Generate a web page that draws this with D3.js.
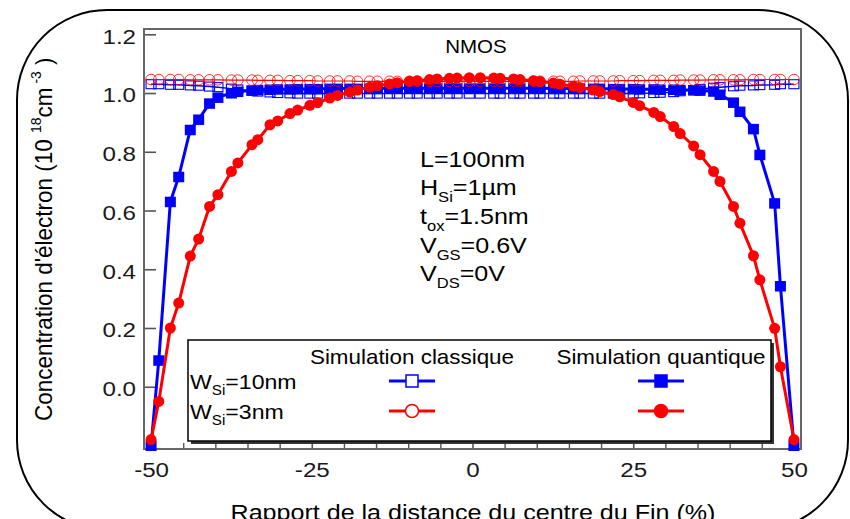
<!DOCTYPE html>
<html>
<head>
<meta charset="utf-8">
<script src="https://cdn.jsdelivr.net/npm/d3@7"></script>
<style>
  html, body { margin: 0; padding: 0; background: #fff; }
  svg { display: block; font-family: "Liberation Sans", Arial, Helvetica, sans-serif; }
</style>
</head>
<body>
<svg id="chart" width="850" height="519"></svg>
<script>
// Position across the fin (% of distance from the centre)
const positions = [
  -50, -48.8, -47.0, -45.7, -43.9, -42.6, -40.9, -39.6, -37.5, -36.5,
  -34.3, -33.4, -31.5, -30.3, -28.4, -27.2, -25.3, -24.1, -22.2, -21.0,
  -19.1, -17.9, -16.0, -14.8, -12.9, -11.7, -9.8, -8.6, -6.7, -5.5,
  -3.6, -2.4, -0.5, 1.2, 3.3, 4.3, 6.4, 7.4, 9.5, 10.5,
  12.6, 13.6, 15.7, 16.7, 18.8, 19.8, 21.9, 22.9, 25.0, 26.0,
  28.2, 29.2, 31.3, 32.3, 34.4, 35.4, 37.5, 38.5, 40.6, 41.6,
  43.7, 44.7, 47.0, 47.9, 50
];

// Electron concentration (1e18 cm^-3), quantum simulation, W_Si = 10 nm
const quantum10 = [
  -0.20, 0.09, 0.63, 0.715, 0.875, 0.91, 0.965, 0.985, 1.000, 1.005,
  1.009, 1.011, 1.012, 1.013, 1.013, 1.014, 1.014, 1.014, 1.015, 1.015,
  1.015, 1.015, 1.015, 1.015, 1.016, 1.016, 1.016, 1.016, 1.016, 1.016,
  1.016, 1.016, 1.016, 1.016, 1.016, 1.016, 1.016, 1.016, 1.016, 1.016,
  1.015, 1.015, 1.015, 1.015, 1.015, 1.015, 1.014, 1.014, 1.014, 1.013,
  1.013, 1.012, 1.012, 1.011, 1.010, 1.009, 1.006, 0.995, 0.968, 0.937,
  0.878, 0.79, 0.625, 0.343, -0.20
];

// Quantum simulation, W_Si = 3 nm
const quantum3 = [
  -0.18, -0.05, 0.20, 0.285, 0.445, 0.503, 0.614, 0.654, 0.733, 0.762,
  0.824, 0.841, 0.892, 0.905, 0.930, 0.942, 0.958, 0.967, 0.983, 0.992,
  1.003, 1.010, 1.020, 1.025, 1.031, 1.035, 1.040, 1.042, 1.046, 1.048,
  1.050, 1.051, 1.052, 1.052, 1.051, 1.050, 1.048, 1.046, 1.042, 1.039,
  1.034, 1.030, 1.023, 1.019, 1.010, 1.005, 0.995, 0.987, 0.968, 0.957,
  0.934, 0.920, 0.886, 0.862, 0.820, 0.790, 0.733, 0.699, 0.614, 0.557,
  0.446, 0.364, 0.199, 0.068, -0.18
];

// Classical simulation, W_Si = 10 nm
const classic10 = [
  1.030, 1.030, 1.028, 1.028, 1.026, 1.025, 1.022, 1.020, 1.015, 1.012,
  1.008, 1.005, 1.002, 1.000, 0.999, 0.998, 0.998, 0.998, 0.998, 0.998,
  0.998, 0.998, 0.998, 0.998, 0.998, 0.998, 0.998, 0.998, 0.998, 0.998,
  0.998, 0.998, 0.998, 0.998, 0.998, 0.998, 0.998, 0.998, 0.998, 0.998,
  0.998, 0.998, 0.998, 0.998, 0.998, 0.998, 0.998, 0.998, 0.998, 0.999,
  1.000, 1.001, 1.003, 1.006, 1.010, 1.014, 1.018, 1.020, 1.023, 1.025,
  1.026, 1.027, 1.028, 1.030, 1.030
];

// Classical simulation, W_Si = 3 nm
const classic3 = [
  1.046, 1.046, 1.046, 1.046, 1.045, 1.045, 1.045, 1.045, 1.044, 1.044,
  1.044, 1.043, 1.043, 1.043, 1.042, 1.042, 1.042, 1.041, 1.041, 1.041,
  1.041, 1.040, 1.040, 1.040, 1.040, 1.040, 1.040, 1.040, 1.040, 1.040,
  1.040, 1.040, 1.040, 1.040, 1.040, 1.040, 1.040, 1.040, 1.040, 1.040,
  1.040, 1.040, 1.040, 1.041, 1.041, 1.041, 1.041, 1.042, 1.042, 1.042,
  1.043, 1.043, 1.043, 1.044, 1.044, 1.044, 1.045, 1.045, 1.045, 1.045,
  1.046, 1.046, 1.046, 1.046, 1.046
];

const xTicks = [-50, -25, 0, 25, 50];
const xMinorTicks = [-45, -40, -35, -30, -20, -15, -10, -5, 5, 10, 15, 20, 30, 35, 40, 45];
const yTicks = [0.0, 0.2, 0.4, 0.6, 0.8, 1.0, 1.2];

const titleText = "NMOS";
const xAxisTitle = "Rapport de la distance du centre du Fin (%)";
const yAxisTitle = [
  { t: "Concentration d'électron (10 " },
  { t: "18", sup: true },
  { t: "cm" },
  { t: " -3", sup: true },
  { t: " )" }
];
const deviceParams = [
  [{ t: "L=100nm" }],
  [{ t: "H" }, { t: "Si", sub: true }, { t: "=1µm" }],
  [{ t: "t" }, { t: "ox", sub: true }, { t: "=1.5nm" }],
  [{ t: "V" }, { t: "GS", sub: true }, { t: "=0.6V" }],
  [{ t: "V" }, { t: "DS", sub: true }, { t: "=0V" }]
];
const legendHeaders = ["Simulation classique", "Simulation quantique"];
const legendRows = [
  [{ t: "W" }, { t: "Si", sub: true }, { t: "=10nm" }],
  [{ t: "W" }, { t: "Si", sub: true }, { t: "=3nm" }]
];

const BLUE = "#0000ff";
const RED = "#ff0000";
const SX = 1.12; // horizontal stretch applied to lettering

const svg = d3.select("#chart");

// Writes text made of plain / sub / superscript pieces
function richText(parent, x, y, parts, size, opts = {}) {
  const sx = opts.sx || SX;
  const g = parent.append("g")
    .attr("transform", opts.rotate
      ? `translate(${x},${y}) rotate(-90) scale(1,${sx})`
      : `translate(${x},${y}) scale(${sx},1)`);
  const txt = g.append("text")
    .attr("x", 0).attr("y", 0)
    .attr("font-size", size)
    .attr("fill", "#000")
    .attr("text-anchor", opts.anchor || "start");
  let shift = 0;
  parts.forEach(p => {
    let target = 0;
    let fs = size;
    if (p.sub) { target = size * 0.30; fs = size * 0.66; }
    if (p.sup) { target = -size * 0.45; fs = size * 0.62; }
    txt.append("tspan")
      .attr("font-size", fs)
      .attr("dy", target - shift)
      .text(p.t);
    shift = target;
  });
  return g;
}

// Rounded outer border
svg.append("rect")
  .attr("x", 17).attr("y", 10)
  .attr("width", 831).attr("height", 520)
  .attr("rx", 90).attr("ry", 90)
  .attr("fill", "none").attr("stroke", "#000").attr("stroke-width", 2);

const plot = { left: 144, right: 801, top: 29, bottom: 449 };
const x = d3.scaleLinear().domain([-51.1, 51.1]).range([plot.left, plot.right]);
const y = d3.scaleLinear().domain([-0.212, 1.218]).range([plot.bottom, plot.top]);

const TICK_SX = 1.15;

// Axes with inward ticks
const yAxis = d3.axisLeft(y).tickValues(yTicks).tickFormat(d3.format(".1f"))
  .tickSize(-12).tickSizeOuter(0).tickPadding(8);
const gy = svg.append("g").attr("transform", `translate(${plot.left},0)`).call(yAxis);
gy.select(".domain").remove();
gy.selectAll(".tick line").attr("stroke", "#555").attr("stroke-width", 1.6);
gy.selectAll(".tick text")
  .attr("font-size", 21).attr("font-family", "Liberation Sans, Arial, sans-serif")
  .attr("fill", "#1a1a1a")
  .attr("x", -8 / TICK_SX).attr("dy", "0.42em")
  .attr("transform", `scale(${TICK_SX},1)`);

const xAxis = d3.axisBottom(x).tickValues(xTicks).tickFormat(d => String(d))
  .tickSize(-11).tickSizeOuter(0).tickPadding(13);
const gx = svg.append("g").attr("transform", `translate(0,${plot.bottom})`).call(xAxis);
gx.select(".domain").remove();
gx.selectAll(".tick line").attr("stroke", "#555").attr("stroke-width", 1.6);
gx.selectAll(".tick text")
  .attr("font-size", 21).attr("font-family", "Liberation Sans, Arial, sans-serif")
  .attr("fill", "#1a1a1a")
  .attr("transform", `scale(${TICK_SX},1)`);

const xMinor = d3.axisBottom(x).tickValues(xMinorTicks).tickFormat("")
  .tickSize(-6).tickSizeOuter(0);
const gxm = svg.append("g").attr("transform", `translate(0,${plot.bottom})`).call(xMinor);
gxm.select(".domain").remove();
gxm.selectAll(".tick line").attr("stroke", "#555").attr("stroke-width", 1.4);

// Plot frame
svg.append("rect")
  .attr("x", plot.left).attr("y", plot.top)
  .attr("width", plot.right - plot.left).attr("height", plot.bottom - plot.top)
  .attr("fill", "none").attr("stroke", "#666").attr("stroke-width", 2);

const line = d3.line().x((d, i) => x(positions[i])).y(d => y(d));
const pts = vals => vals.map((v, i) => ({ px: x(positions[i]), py: y(v) }));

const series = svg.append("g");

// Classical, 10 nm: thin line with open squares
series.append("path").datum(classic10).attr("d", line)
  .attr("fill", "none").attr("stroke", BLUE).attr("stroke-width", 1.5);
series.append("g").selectAll("rect").data(pts(classic10)).join("rect")
  .attr("x", d => d.px - 5).attr("y", d => d.py - 4.5)
  .attr("width", 10).attr("height", 9)
  .attr("fill", "none").attr("stroke", BLUE).attr("stroke-width", 1.1);

// Quantum, 10 nm: thick line with filled squares
series.append("path").datum(quantum10).attr("d", line)
  .attr("fill", "none").attr("stroke", BLUE).attr("stroke-width", 3);
series.append("g").selectAll("rect").data(pts(quantum10)).join("rect")
  .attr("x", d => d.px - 5.5).attr("y", d => d.py - 5)
  .attr("width", 11).attr("height", 10.5)
  .attr("fill", BLUE);

// Quantum, 3 nm: thick line with filled circles
series.append("path").datum(quantum3).attr("d", line)
  .attr("fill", "none").attr("stroke", RED).attr("stroke-width", 3);
series.append("g").selectAll("circle").data(pts(quantum3)).join("circle")
  .attr("cx", d => d.px).attr("cy", d => d.py).attr("r", 5.5)
  .attr("fill", RED);

// Classical, 3 nm: thin line with open circles
series.append("path").datum(classic3).attr("d", line)
  .attr("fill", "none").attr("stroke", RED).attr("stroke-width", 1.2);
series.append("g").selectAll("circle").data(pts(classic3)).join("circle")
  .attr("cx", d => d.px).attr("cy", d => d.py).attr("r", 5.3)
  .attr("fill", "none").attr("stroke", RED).attr("stroke-width", 1).attr("stroke-opacity", 0.8);

// Title inside the plot
richText(svg, 476, 53, [{ t: titleText }], 19, { anchor: "middle", sx: 1.08 });

// Device parameters
const paramBaselines = [167, 195, 224, 253, 281];
deviceParams.forEach((parts, i) => richText(svg, 420, paramBaselines[i], parts, 22, { sx: 1.14 }));

// Axis titles
richText(svg, 473, 520, [{ t: xAxisTitle }], 22, { anchor: "middle", sx: 1.14 });
richText(svg, 52, 421, yAxisTitle, 22.5, { rotate: true, sx: 1.08 });

// Legend
const legend = svg.append("g");
const lb = { x: 188, y: 340, w: 583, h: 101 };
legend.append("rect").attr("x", lb.x + 3).attr("y", lb.y + 3)
  .attr("width", lb.w).attr("height", lb.h).attr("fill", "#333");
legend.append("rect").attr("x", lb.x).attr("y", lb.y)
  .attr("width", lb.w).attr("height", lb.h)
  .attr("fill", "#fff").attr("stroke", "#000").attr("stroke-width", 1.5);

const colCenters = [412, 661];
legendHeaders.forEach((h, i) => richText(legend, colCenters[i], 364, [{ t: h }], 20, { anchor: "middle", sx: 1.12 }));

const rowY = [381, 411];
legendRows.forEach((parts, i) => richText(legend, 190, rowY[i] + 8, parts, 21, { sx: 1.1 }));

const legendStyles = [
  { color: BLUE, shape: "square" },
  { color: RED, shape: "circle" }
];
legendStyles.forEach((s, r) => {
  colCenters.forEach((cx, c) => {
    const cy = rowY[r];
    const filled = c === 1;
    legend.append("line")
      .attr("x1", cx - 23).attr("x2", cx + 23).attr("y1", cy).attr("y2", cy)
      .attr("stroke", s.color).attr("stroke-width", 3);
    if (s.shape === "square") {
      legend.append("rect")
        .attr("x", cx - 6).attr("y", cy - 6).attr("width", 12).attr("height", 12)
        .attr("fill", filled ? s.color : "#fff").attr("stroke", s.color).attr("stroke-width", 1.5);
    } else {
      legend.append("circle")
        .attr("cx", cx).attr("cy", cy).attr("r", 6.5)
        .attr("fill", filled ? s.color : "#fff").attr("stroke", s.color).attr("stroke-width", 1.5);
    }
  });
});
</script>
</body>
</html>
